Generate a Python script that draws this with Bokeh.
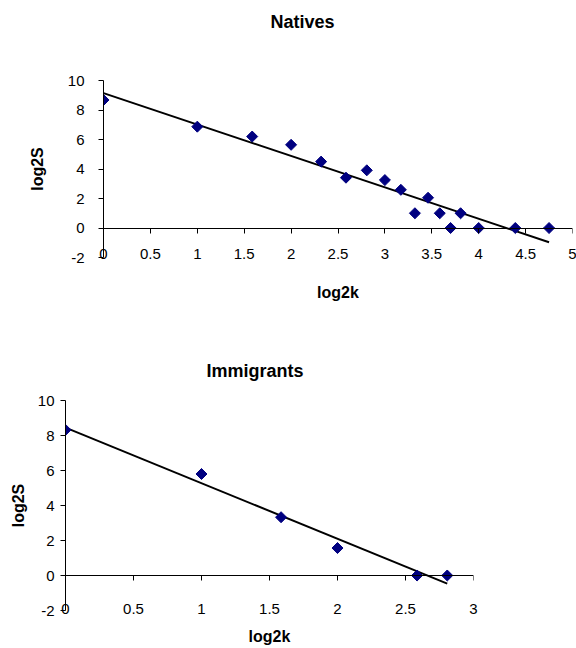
import numpy as np
from bokeh.plotting import figure
from bokeh.layouts import column, row
from bokeh.models import Range1d, LinearAxis, FixedTicker, CustomJSTickFormatter, Title
from bokeh.embed import file_html
from bokeh.resources import INLINE

# ---- data ----
nat_x = [0, 1, 1.585, 2, 2.32, 2.585, 2.807, 3, 3.17, 3.32, 3.46, 3.585, 3.70, 3.807, 4.0, 4.39, 4.75]
nat_y = [8.68, 6.87, 6.2, 5.64, 4.5, 3.41, 3.91, 3.25, 2.59, 1.0, 2.05, 1.0, 0, 1.0, 0, 0, 0]
imm_x = [0, 1, 1.585, 2, 2.585, 2.807]
imm_y = [8.32, 5.8, 3.33, 1.57, 0, 0]
nat_xticks = [0, 0.5, 1, 1.5, 2, 2.5, 3, 3.5, 4, 4.5, 5]
imm_xticks = [0, 0.5, 1, 1.5, 2, 2.5, 3]
y_ticks = [-2, 0, 2, 4, 6, 8, 10]
titles = ["Natives", "Immigrants"]
x_label = "log2k"
y_label = "log2S"

FONT = "Liberation Sans"
MARK = "#000080"


def make(xs, ys, xticks, title, xmax, height, borders, ylab_standoff, ytick_standoff,
         xlab_standoff, xtick_standoff, title_offset, title_standoff, spacer):
    left, right, top, bottom = borders
    p = figure(width=576, height=height, output_backend="svg", toolbar_location=None,
               x_range=Range1d(0, xmax), y_range=Range1d(-2, 10),
               min_border_left=left, min_border_right=right,
               min_border_top=top, min_border_bottom=bottom)
    p.outline_line_color = None
    p.grid.visible = False
    p.background_fill_color = "white"
    p.border_fill_color = "white"

    # bottom axis: labels only
    xa = p.xaxis[0]
    xa.ticker = FixedTicker(ticks=xticks)
    xa.formatter = CustomJSTickFormatter(code="return tick.toString();")
    xa.axis_line_color = None
    xa.major_tick_out = 0
    xa.major_tick_in = 0
    xa.minor_tick_out = 0
    xa.minor_tick_in = 0
    xa.major_label_standoff = xtick_standoff
    xa.major_label_text_font = FONT
    xa.major_label_text_font_size = "15px"
    xa.major_label_text_color = "black"
    xa.axis_label = x_label
    xa.axis_label_standoff = xlab_standoff
    xa.axis_label_text_font = FONT
    xa.axis_label_text_font_style = "bold"
    xa.axis_label_text_font_size = "16px"
    xa.axis_label_text_color = "black"

    # x axis line at y = 0 with outside ticks
    x0 = LinearAxis(fixed_location=0, ticker=FixedTicker(ticks=xticks))
    x0.axis_line_color = "black"
    x0.major_tick_line_color = "black"
    x0.major_tick_out = 5
    x0.major_tick_in = 0
    x0.minor_tick_out = 0
    x0.minor_tick_in = 0
    x0.major_label_text_color = None
    p.add_layout(x0, "below")

    ya = p.yaxis[0]
    ya.ticker = FixedTicker(ticks=y_ticks)
    ya.formatter = CustomJSTickFormatter(code="return tick.toString();")
    ya.axis_line_color = "black"
    ya.major_tick_line_color = "black"
    ya.major_tick_out = 5
    ya.major_tick_in = 0
    ya.minor_tick_out = 0
    ya.minor_tick_in = 0
    ya.major_label_standoff = ytick_standoff
    ya.major_label_text_font = FONT
    ya.major_label_text_font_size = "15px"
    ya.major_label_text_color = "black"
    ya.axis_label = y_label
    ya.axis_label_standoff = ylab_standoff
    ya.axis_label_text_font = FONT
    ya.axis_label_text_font_style = "bold"
    ya.axis_label_text_font_size = "16px"
    ya.axis_label_text_color = "black"

    # least-squares trendline over data range
    xarr = np.array(xs, dtype=float)
    slope, intercept = np.polyfit(xarr, np.array(ys, dtype=float), 1)
    lx = [xarr.min(), xarr.max()]
    ly = [intercept + slope * v for v in lx]
    p.line(lx, ly, line_color="black", line_width=2)

    p.scatter(xs, ys, marker="square", angle=np.pi / 4, size=7.8,
              fill_color=MARK, line_color=MARK)

    if spacer:
        p.add_layout(Title(text=" ", text_font_size="2px", standoff=spacer), "above")
    p.add_layout(Title(text=title, text_font=FONT, text_font_style="bold",
                       text_font_size="18px", text_color="black", align="left",
                       offset=title_offset, vertical_align="bottom",
                       standoff=title_standoff), "above")
    return p


p1 = make(nat_x, nat_y, nat_xticks, titles[0], 5, 324,
          (103, 4, 80, 67), 19, 14, 22, -9, 167, 0, 45)
p2 = make(imm_x, imm_y, imm_xticks, titles[1], 3, 324,
          (65, 103, 76, 38), 8, 6, 11, -7, 141, 40, 0)

p = column(row(p1), row(p2))
open("out.html", "w").write(file_html(p, INLINE))
